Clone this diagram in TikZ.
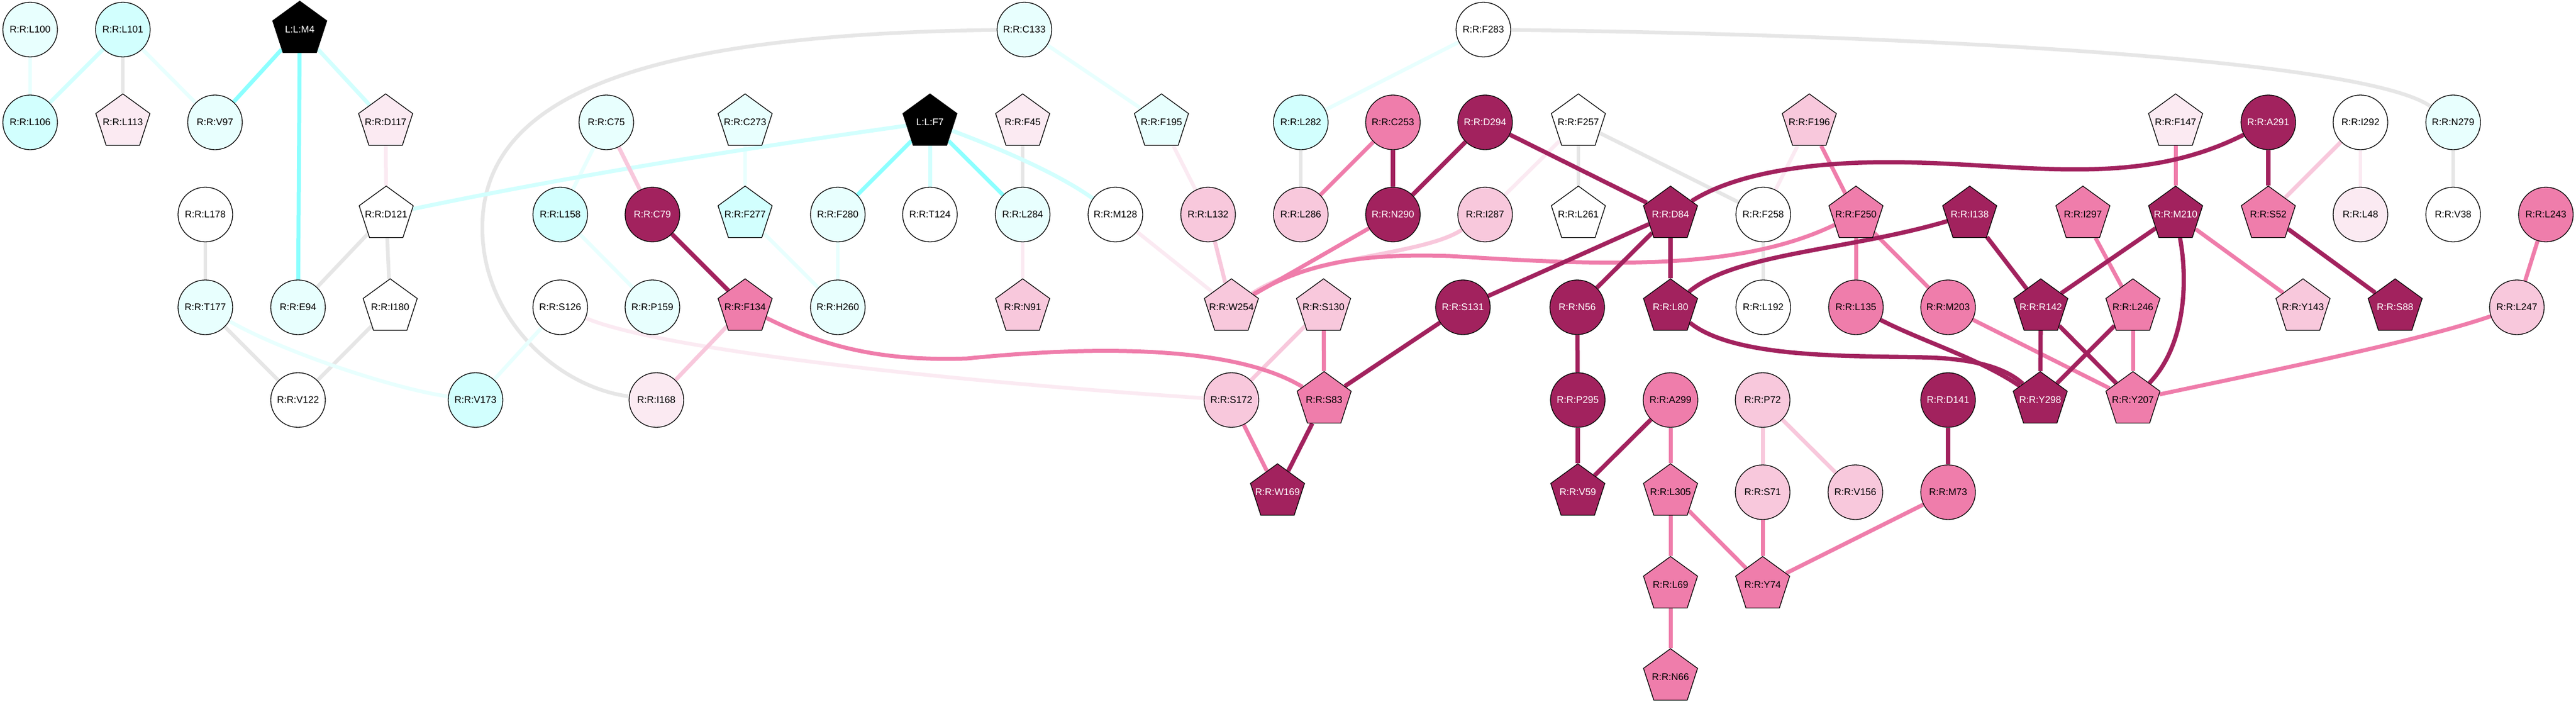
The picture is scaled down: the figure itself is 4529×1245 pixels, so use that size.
\documentclass[tikz,border=0pt]{standalone}
\usepackage{fontspec}
\setmainfont{Liberation Sans}
\usetikzlibrary{shapes.geometric}
\definecolor{colW}{HTML}{FFFFFF}
\definecolor{colCA}{HTML}{E8FFFE}
\definecolor{colCB}{HTML}{D2FFFE}
\definecolor{colCC}{HTML}{8CFFFF}
\definecolor{colPA}{HTML}{FBEAF2}
\definecolor{colPB}{HTML}{F8C8DC}
\definecolor{colPC}{HTML}{EF7DAB}
\definecolor{colPD}{HTML}{A2225E}
\definecolor{colG}{HTML}{E6E6E6}
\newcommand\lbl[1]{\makebox[0pt]{#1}}
\pgfdeclarelayer{bglayer}
\pgfdeclarelayer{edgelayer}
\pgfsetlayers{bglayer,edgelayer,main}
\begin{document}
\begin{tikzpicture}[x=1pt,y=-1pt,
  every node/.style={font=\fontsize{17}{20}\selectfont, draw=black, line width=1.3pt, inner sep=0pt, text=black},
  cir/.style={circle, minimum size=96pt},
  pent/.style={regular polygon, regular polygon sides=5, minimum size=100pt},
  cW/.style={fill=colW},
  cA/.style={fill=colCA},
  cB/.style={fill=colCB},
  pA/.style={fill=colPA},
  pB/.style={fill=colPB},
  pC/.style={fill=colPC},
  pD/.style={fill=colPD, text=white},
  blk/.style={fill=black, text=white},
  ed/.style={line width=7pt},
  eG/.style={ed, line width=6.5pt, draw=colG},
  eCA/.style={ed, line width=6.5pt, draw=colCA},
  eCB/.style={ed, draw=colCB},
  eCC/.style={ed, draw=colCC},
  ePA/.style={ed, line width=6.5pt, draw=colPA},
  ePB/.style={ed, draw=colPB},
  ePC/.style={ed, draw=colPC},
  ePD/.style={ed, line width=7.5pt, draw=colPD}
]
\useasboundingbox (0,0) rectangle (4529,1245);
\begin{pgfonlayer}{bglayer}
\fill[white] (0,0) rectangle (4529,1245);
\end{pgfonlayer}
% row 1
\node[cir,cA] (L100) at (53,52) {\lbl{R:R:L100}};
\node[cir,cB] (L101) at (216,52) {\lbl{R:R:L101}};
\node[pent,blk] (M4) at (527,52) {\lbl{L:L:M4}};
\node[cir,cA] (C133) at (1801,52) {\lbl{R:R:C133}};
\node[cir,cW] (F283) at (2608,52) {\lbl{R:R:F283}};
% row 2
\node[cir,cB] (L106) at (53,215) {\lbl{R:R:L106}};
\node[pent,pA] (L113) at (216,215) {\lbl{R:R:L113}};
\node[cir,cA] (V97) at (378,215) {\lbl{R:R:V97}};
\node[pent,pA] (D117) at (678,215) {\lbl{R:R:D117}};
\node[cir,cA] (C75) at (1066,215) {\lbl{R:R:C75}};
\node[pent,cA] (C273) at (1310,215) {\lbl{R:R:C273}};
\node[pent,blk] (F7) at (1635,215) {\lbl{L:L:F7}};
\node[pent,pA] (F45) at (1798,215) {\lbl{R:R:F45}};
\node[pent,cA] (F195) at (2042,215) {\lbl{R:R:F195}};
\node[cir,cB] (L282) at (2287,215) {\lbl{R:R:L282}};
\node[cir,pC] (C253) at (2449,215) {\lbl{R:R:C253}};
\node[cir,pD] (D294) at (2611,215) {\lbl{R:R:D294}};
\node[pent,cW] (F257) at (2775,215) {\lbl{R:R:F257}};
\node[pent,pB] (F196) at (3181,215) {\lbl{R:R:F196}};
\node[pent,pA] (F147) at (3825,215) {\lbl{R:R:F147}};
\node[cir,pD] (A291) at (3988,215) {\lbl{R:R:A291}};
\node[cir,cW] (I292) at (4150,215) {\lbl{R:R:I292}};
\node[cir,cA] (N279) at (4313,215) {\lbl{R:R:N279}};
% row 3
\node[cir,cW] (L178) at (361,377) {\lbl{R:R:L178}};
\node[pent,cW] (D121) at (679,377) {\lbl{R:R:D121}};
\node[cir,cB] (L158) at (985,377) {\lbl{R:R:L158}};
\node[cir,pD] (C79) at (1147,377) {\lbl{R:R:C79}};
\node[pent,cB] (F277) at (1310,377) {\lbl{R:R:F277}};
\node[cir,cA] (F280) at (1473,377) {\lbl{R:R:F280}};
\node[cir,cW] (T124) at (1635,377) {\lbl{R:R:T124}};
\node[cir,cA] (L284) at (1798,377) {\lbl{R:R:L284}};
\node[cir,cW] (M128) at (1961,377) {\lbl{R:R:M128}};
\node[cir,pB] (L132) at (2124,377) {\lbl{R:R:L132}};
\node[cir,pB] (L286) at (2287,377) {\lbl{R:R:L286}};
\node[cir,pD] (N290) at (2449,377) {\lbl{R:R:N290}};
\node[cir,pB] (I287) at (2611,377) {\lbl{R:R:I287}};
\node[pent,cW] (L261) at (2775,377) {\lbl{R:R:L261}};
\node[pent,pD] (D84) at (2937,377) {\lbl{R:R:D84}};
\node[cir,cW] (F258) at (3100,377) {\lbl{R:R:F258}};
\node[pent,pC] (F250) at (3263,377) {\lbl{R:R:F250}};
\node[pent,pD] (I138) at (3463,377) {\lbl{R:R:I138}};
\node[pent,pC] (I297) at (3662,377) {\lbl{R:R:I297}};
\node[pent,pD] (M210) at (3825,377) {\lbl{R:R:M210}};
\node[pent,pC] (S52) at (3988,377) {\lbl{R:R:S52}};
\node[cir,pA] (L48) at (4150,377) {\lbl{R:R:L48}};
\node[cir,cW] (V38) at (4313,377) {\lbl{R:R:V38}};
\node[cir,pC] (L243) at (4476,377) {\lbl{R:R:L243}};
% row 4
\node[cir,cA] (T177) at (361,540) {\lbl{R:R:T177}};
\node[cir,cA] (E94) at (524,540) {\lbl{R:R:E94}};
\node[pent,cW] (I180) at (686,540) {\lbl{R:R:I180}};
\node[cir,cW] (S126) at (985,540) {\lbl{R:R:S126}};
\node[cir,cA] (P159) at (1147,540) {\lbl{R:R:P159}};
\node[pent,pC] (F134) at (1310,540) {\lbl{R:R:F134}};
\node[cir,cA] (H260) at (1473,540) {\lbl{R:R:H260}};
\node[pent,pB] (N91) at (1798,540) {\lbl{R:R:N91}};
\node[pent,pB] (W254) at (2165,540) {\lbl{R:R:W254}};
\node[pent,pB] (S130) at (2327,540) {\lbl{R:R:S130}};
\node[cir,pD] (S131) at (2572,540) {\lbl{R:R:S131}};
\node[cir,pD] (N56) at (2773,540) {\lbl{R:R:N56}};
\node[pent,pD] (L80) at (2937,540) {\lbl{R:R:L80}};
\node[cir,cW] (L192) at (3100,540) {\lbl{R:R:L192}};
\node[cir,pC] (L135) at (3263,540) {\lbl{R:R:L135}};
\node[cir,pC] (M203) at (3425,540) {\lbl{R:R:M203}};
\node[pent,pD] (R142) at (3588,540) {\lbl{R:R:R142}};
\node[pent,pC] (L246) at (3750,540) {\lbl{R:R:L246}};
\node[pent,pB] (Y143) at (4049,540) {\lbl{R:R:Y143}};
\node[pent,pD] (S88) at (4211,540) {\lbl{R:R:S88}};
\node[cir,pB] (L247) at (4425,540) {\lbl{R:R:L247}};
% row 5
\node[cir,cW] (V122) at (524,703) {\lbl{R:R:V122}};
\node[cir,cB] (V173) at (836,703) {\lbl{R:R:V173}};
\node[cir,pA] (I168) at (1154,703) {\lbl{R:R:I168}};
\node[cir,pB] (S172) at (2165,703) {\lbl{R:R:S172}};
\node[pent,pC] (S83) at (2328,703) {\lbl{R:R:S83}};
\node[cir,pD] (P295) at (2774,703) {\lbl{R:R:P295}};
\node[cir,pC] (A299) at (2937,703) {\lbl{R:R:A299}};
\node[cir,pB] (P72) at (3099,703) {\lbl{R:R:P72}};
\node[cir,pD] (D141) at (3425,703) {\lbl{R:R:D141}};
\node[pent,pD] (Y298) at (3587,703) {\lbl{R:R:Y298}};
\node[pent,pC] (Y207) at (3750,703) {\lbl{R:R:Y207}};
% row 6
\node[pent,pD] (W169) at (2246,865) {\lbl{R:R:W169}};
\node[pent,pD] (V59) at (2774,865) {\lbl{R:R:V59}};
\node[pent,pC] (L305) at (2937,865) {\lbl{R:R:L305}};
\node[cir,pB] (S71) at (3099,865) {\lbl{R:R:S71}};
\node[cir,pB] (V156) at (3262,865) {\lbl{R:R:V156}};
\node[cir,pC] (M73) at (3425,865) {\lbl{R:R:M73}};
% row 7, 8
\node[pent,pC] (L69) at (2937,1028) {\lbl{R:R:L69}};
\node[pent,pC] (Y74) at (3099,1028) {\lbl{R:R:Y74}};
\node[pent,pC] (N66) at (2937,1190) {\lbl{R:R:N66}};

\begin{pgfonlayer}{edgelayer}
% grey
\draw[eG] (L101) -- (L113);
\draw[eG] (D121) -- (E94);
\draw[eG] (D121) -- (I180);
\draw[eG] (L178) -- (T177);
\draw[eG] (T177) -- (V122);
\draw[eG] (I180) -- (V122);
\draw[eG] (F45) -- (L284);
\draw[eG] (L282) -- (L286);
\draw[eG] (F257) -- (L261);
\draw[eG] (F257) -- (F258);
\draw[eG] (F258) -- (L192);
\draw[eG] (N279) -- (V38);
\draw[eG] (C133) .. controls (1150,60) and (848,160) .. (848,400) .. controls (848,560) and (980,680) .. (I168);
\draw[eG] (F283) .. controls (3300,60) and (4150,100) .. (N279);
% cyan
\draw[eCA] (L100) -- (L106);
\draw[eCA] (L101) -- (V97);
\draw[eCA] (C75) -- (L158);
\draw[eCA] (C273) -- (F277);
\draw[eCA] (F277) -- (H260);
\draw[eCA] (L158) -- (P159);
\draw[eCA] (F280) -- (H260);
\draw[eCA] (S126) -- (V173);
\draw[eCA] (C133) -- (F195);
\draw[eCA] (F283) -- (L282);
\draw[eCA] (T177) .. controls (500,620) and (700,685) .. (V173);
\draw[eCB] (L101) -- (L106);
\draw[eCB] (M4) -- (D117);
\draw[eCB] (F7) -- (T124);
\draw[eCB] (D121) .. controls (1015,307) and (1302,262) .. (F7);
\draw[eCB] (F7) .. controls (1760,262) and (1860,305) .. (M128);
\draw[eCC] (M4) -- (V97);
\draw[eCC] (M4) -- (E94);
\draw[eCC] (F7) -- (F280);
\draw[eCC] (F7) -- (L284);
% pink very light
\draw[ePA] (D117) -- (D121);
\draw[ePA] (L284) -- (N91);
\draw[ePA] (F195) -- (L132);
\draw[ePA] (M128) -- (W254);
\draw[ePA] (F257) -- (I287);
\draw[ePA] (F196) -- (F258);
\draw[ePA] (I292) -- (L48);
\draw[ePA] (S126) .. controls (1150,610) and (1600,665) .. (S172);
% pink light
\draw[ePB] (C75) -- (C79);
\draw[ePB] (F134) -- (I168);
\draw[ePB] (L132) -- (W254);
\draw[ePB] (S130) -- (S172);
\draw[ePB] (I292) -- (S52);
\draw[ePB] (P72) -- (S71);
\draw[ePB] (P72) -- (V156);
\draw[ePB] (I287) .. controls (2500,450) and (2300,450) .. (W254);
% pink medium
\draw[ePC] (C253) -- (L286);
\draw[ePC] (N290) -- (W254);
\draw[ePC] (F196) -- (F250);
\draw[ePC] (F250) -- (L135);
\draw[ePC] (F250) -- (M203);
\draw[ePC] (I297) -- (L246);
\draw[ePC] (M210) -- (F147);
\draw[ePC] (M210) -- (Y143);
\draw[ePC] (L243) -- (L247);
\draw[ePC] (M203) -- (Y207);
\draw[ePC] (L246) -- (Y207);
\draw[ePC] (S130) -- (S83);
\draw[ePC] (S172) -- (W169);
\draw[ePC] (A299) -- (L305);
\draw[ePC] (L305) -- (L69);
\draw[ePC] (L305) -- (Y74);
\draw[ePC] (L69) -- (N66);
\draw[ePC] (S71) -- (Y74);
\draw[ePC] (M73) -- (Y74);
\draw[ePC] (F134) .. controls (1450,610) and (1550,635) .. (1700,630) .. controls (1850,615) and (2150,595) .. (S83);
\draw[ePC] (W254) .. controls (2300,460) and (2400,445) .. (2550,450) .. controls (2800,465) and (3050,480) .. (F250);
\draw[ePC] (L247) .. controls (4250,600) and (4000,650) .. (Y207);
% pink dark
\draw[ePD] (C79) -- (F134);
\draw[ePD] (C253) -- (N290);
\draw[ePD] (D294) -- (N290);
\draw[ePD] (D294) -- (D84);
\draw[ePD] (D84) -- (S131);
\draw[ePD] (D84) -- (N56);
\draw[ePD] (D84) -- (L80);
\draw[ePD] (I138) -- (R142);
\draw[ePD] (M210) -- (R142);
\draw[ePD] (A291) -- (S52);
\draw[ePD] (S52) -- (S88);
\draw[ePD] (R142) -- (Y298);
\draw[ePD] (R142) -- (Y207);
\draw[ePD] (L246) -- (Y298);
\draw[ePD] (S131) -- (S83);
\draw[ePD] (S83) -- (W169);
\draw[ePD] (N56) -- (P295);
\draw[ePD] (P295) -- (V59);
\draw[ePD] (A299) -- (V59);
\draw[ePD] (D141) -- (M73);
\draw[ePD] (D84) .. controls (3050,305) and (3180,285) .. (3320,285) .. controls (3550,285) and (3750,335) .. (A291);
\draw[ePD] (I138) .. controls (3250,440) and (3050,445) .. (L80);
\draw[ePD] (L80) .. controls (3050,630) and (3250,625) .. (3380,628) .. controls (3480,630) and (3530,650) .. (Y298);
\draw[ePD] (L135) .. controls (3380,600) and (3480,630) .. (Y298);
\draw[ePD] (M210) .. controls (3848,500) and (3840,610) .. (Y207);
\end{pgfonlayer}
\end{tikzpicture}
\end{document}
